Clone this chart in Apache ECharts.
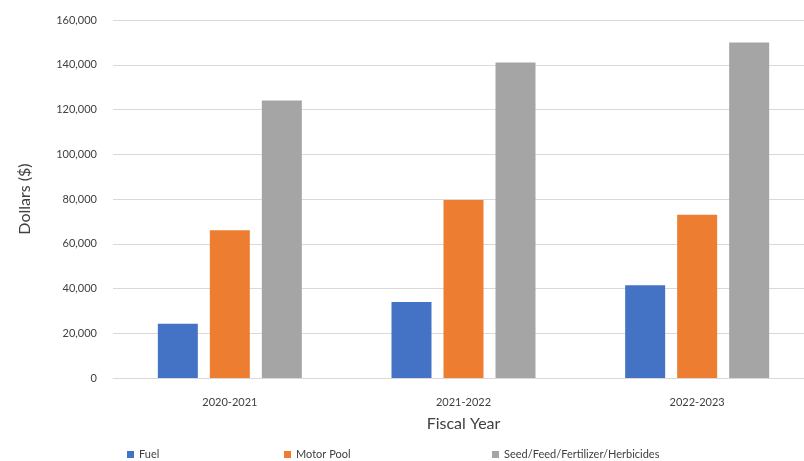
<!DOCTYPE html>
<html>
<head>
<meta charset="utf-8">
<script src="https://cdn.jsdelivr.net/npm/echarts@6/dist/echarts.min.js"></script>
<style>html,body{margin:0;padding:0;background:#fff;}#c{width:804px;height:461px;}</style>
</head>
<body>
<div id="c"></div>
<script>
const categories = ['2020-2021', '2021-2022', '2022-2023'];
const fuel = [24300, 34000, 41400];
const motorPool = [66000, 79600, 73000];
const seedFeed = [124000, 141000, 150000];
const seriesNames = ['Fuel', 'Motor Pool', 'Seed/Feed/Fertilizer/Herbicides'];
const colors = ['#4472C4', '#ED7D31', '#A5A5A5'];

const chart = echarts.init(document.getElementById('c'));
const font = 'Lato, "Open Sans", sans-serif';
const legendBase = {
  top: 444, itemWidth: 7, itemHeight: 7, icon: 'rect', itemGap: 4,
  textStyle: { fontFamily: font, fontSize: 11, color: '#404040' }
};
chart.setOption({
  animation: false,
  color: colors,
  textStyle: { fontFamily: font },
  grid: { left: 113, width: 701, top: 20, height: 358, containLabel: false, outerBoundsMode: 'none' },
  legend: [
    Object.assign({}, legendBase, { left: 122, data: [seriesNames[0]] }),
    Object.assign({}, legendBase, { left: 279, data: [seriesNames[1]] }),
    Object.assign({}, legendBase, { left: 487, data: [seriesNames[2]] })
  ],
  xAxis: {
    type: 'category',
    data: categories,
    name: 'Fiscal Year',
    nameLocation: 'middle',
    nameGap: 38,
    nameTextStyle: { fontFamily: font, fontSize: 16, color: '#404040' },
    axisLine: { lineStyle: { color: '#d9d9d9' } },
    axisTick: { show: false },
    axisLabel: { fontFamily: font, fontSize: 11, color: '#404040', margin: 19 }
  },
  yAxis: {
    type: 'value',
    min: 0, max: 160000, interval: 20000,
    name: 'Dollars ($)',
    nameLocation: 'middle',
    nameGap: 80,
    nameTextStyle: { fontFamily: font, fontSize: 16, color: '#404040' },
    axisLine: { show: false },
    axisTick: { show: false },
    splitLine: { lineStyle: { color: '#d9d9d9' } },
    axisLabel: {
      fontFamily: font, fontSize: 11, color: '#404040', margin: 16,
      formatter: v => v.toLocaleString('en-US')
    }
  },
  series: [
    { name: seriesNames[0], type: 'bar', data: fuel, barWidth: 40, barGap: '30%' },
    { name: seriesNames[1], type: 'bar', data: motorPool, barWidth: 40, barGap: '30%' },
    { name: seriesNames[2], type: 'bar', data: seedFeed, barWidth: 40, barGap: '30%' }
  ]
});
</script>
</body>
</html>
